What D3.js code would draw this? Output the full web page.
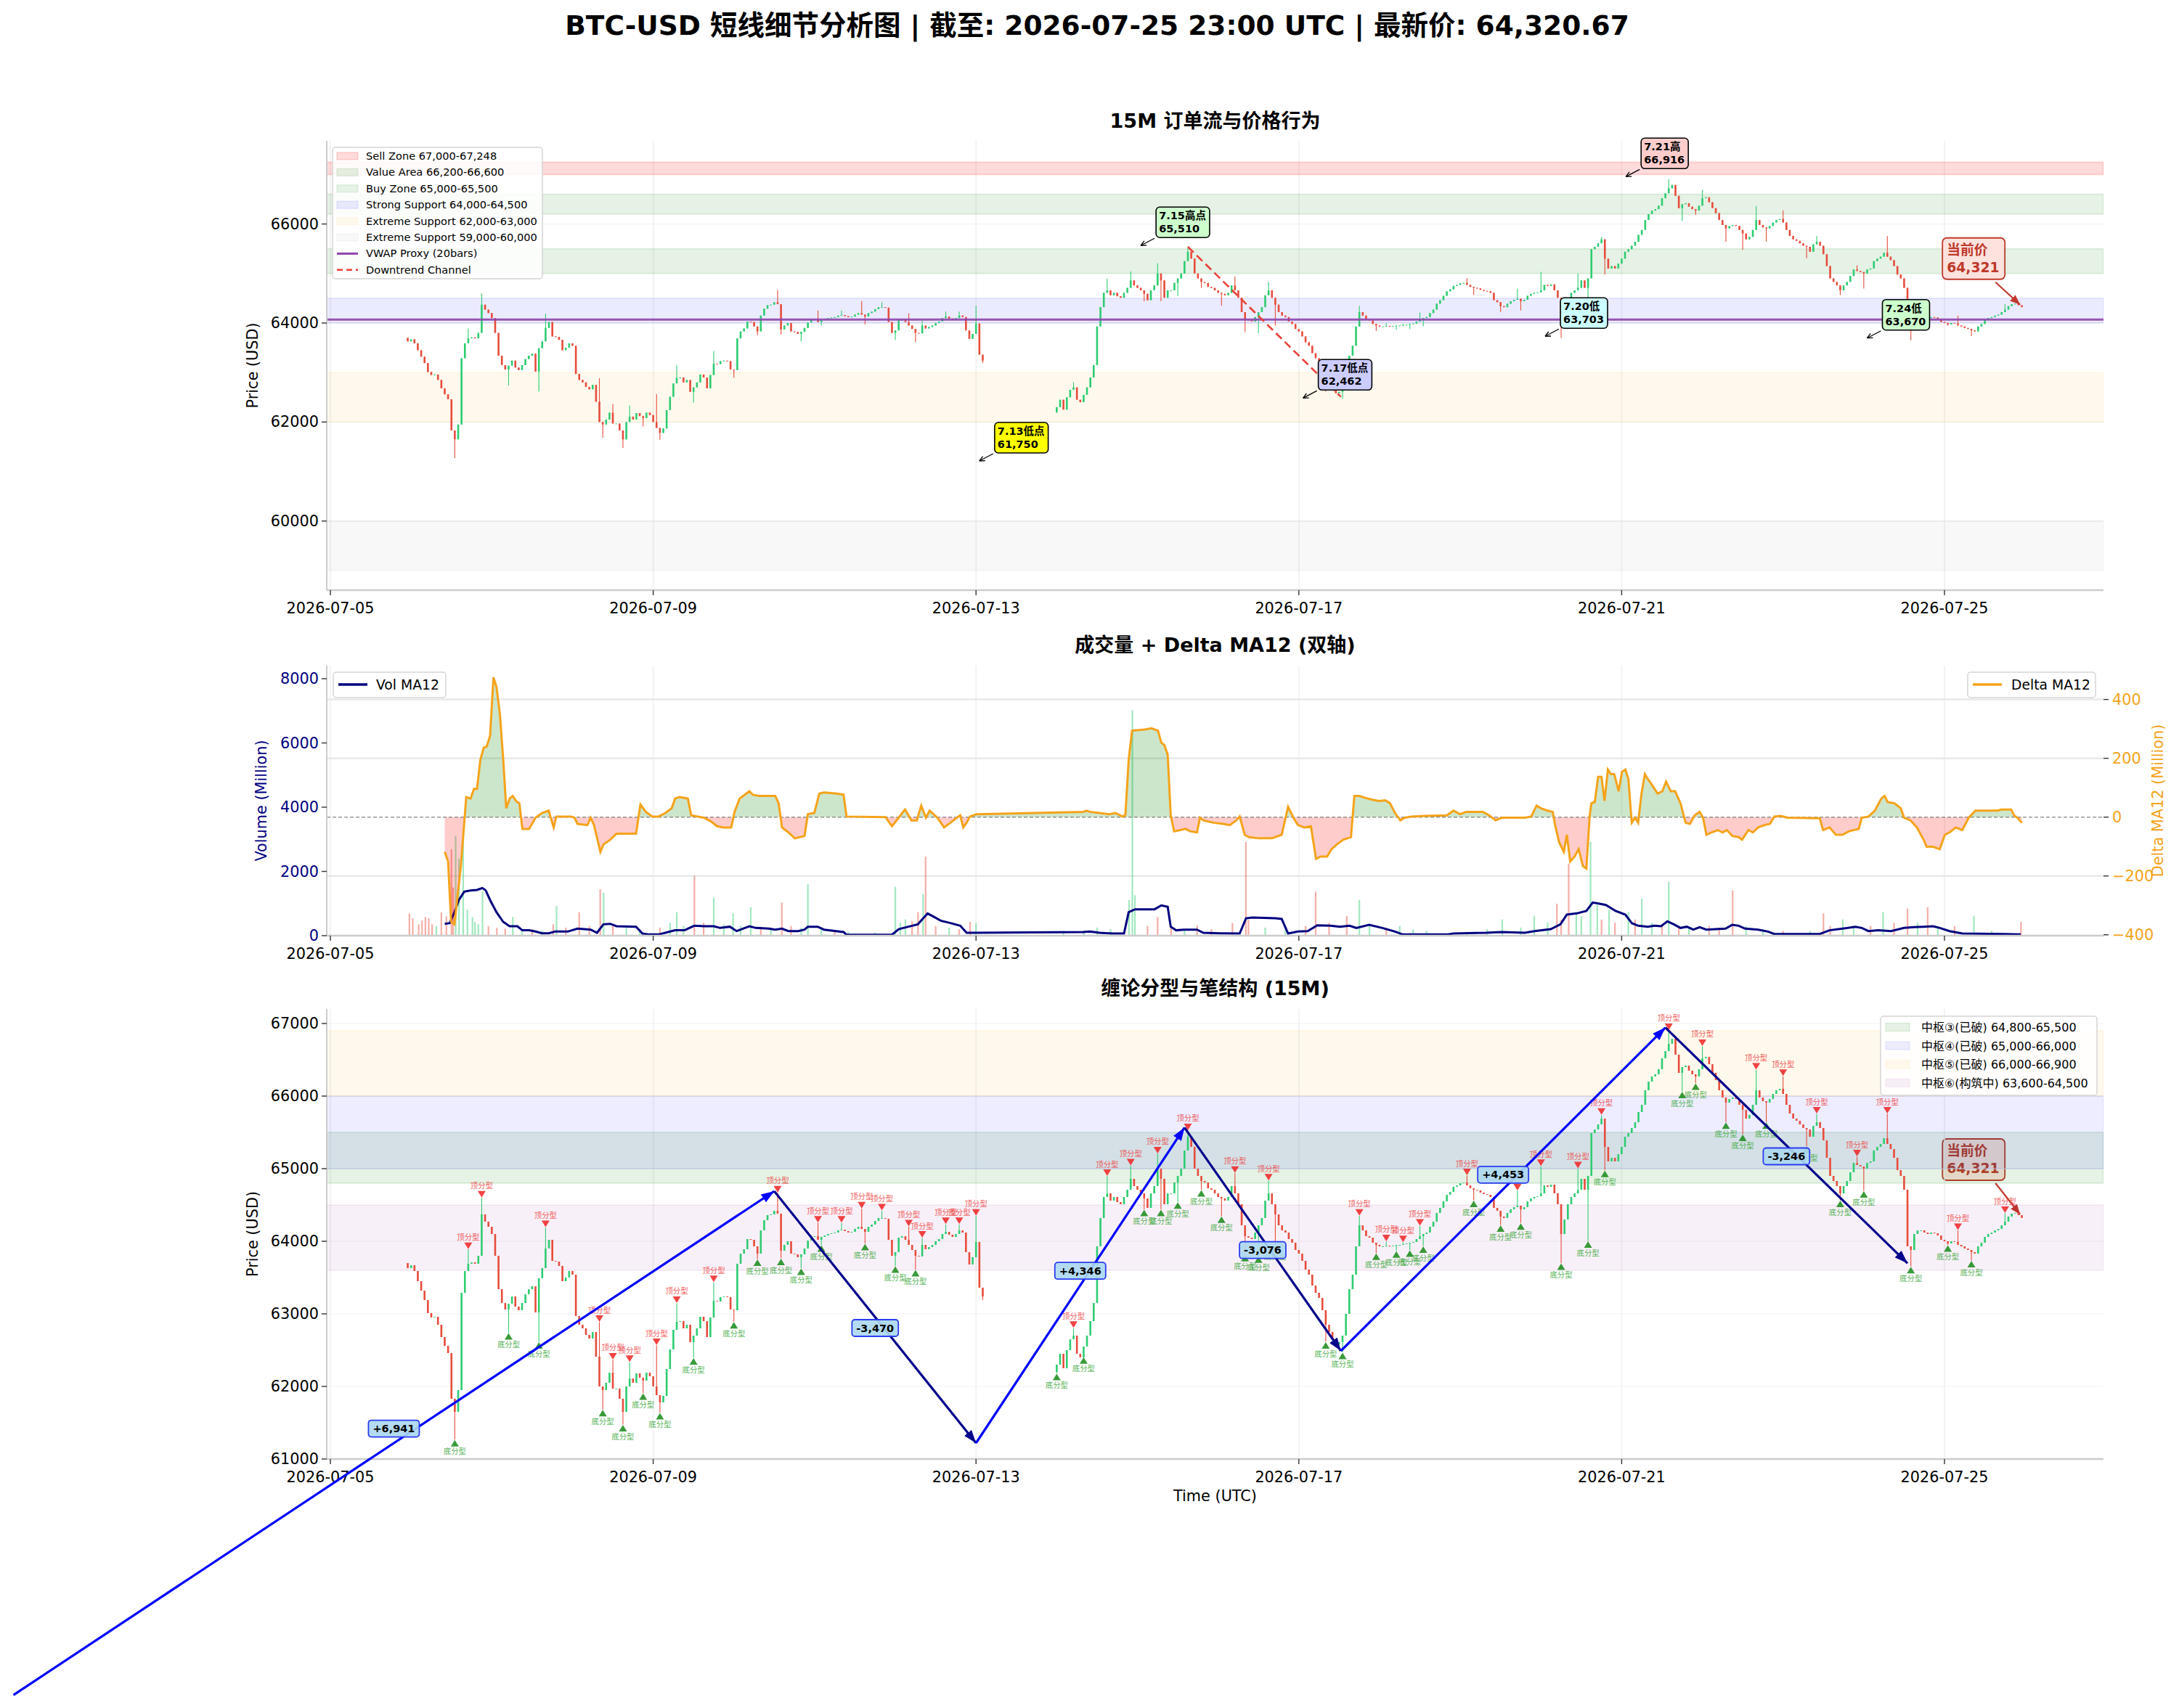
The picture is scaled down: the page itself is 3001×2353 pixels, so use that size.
<!DOCTYPE html>
<html><head><meta charset="utf-8">
<script src="https://cdn.jsdelivr.net/npm/d3@7/dist/d3.min.js"></script>
<style>html,body{margin:0;padding:0;background:#fff}svg{display:block}</style>
</head><body>
<svg id="chart" width="3001" height="2353" xmlns="http://www.w3.org/2000/svg"></svg>
<script>
// ================= DATA =================
const titleText = "BTC-USD 短线细节分析图 | 截至: 2026-07-25 23:00 UTC | 最新价: 64,320.67";
const panelTitles = ["15M 订单流与价格行为", "成交量 + Delta MA12 (双轴)", "缠论分型与笔结构 (15M)"];
const xTickLabels = ["2026-07-05","2026-07-09","2026-07-13","2026-07-17","2026-07-21","2026-07-25"];
const priceTicksTop = [60000,62000,64000,66000];
const volTicks = [0,2000,4000,6000,8000];
const deltaTicks = [-400,-200,0,200,400];
const priceTicksBottom = [61000,62000,63000,64000,65000,66000,67000];

// hourly candles (close prices), segment 1
const seg1Start = "07-05 23:00", seg1Open = 63700;
const seg1Closes = [
63630,63670,63590,63450,63320,63190,63010,62950,62960,62850,62680,62560,
62460,61830,61650,61950,63290,63590,63690,63710,63690,63800,64370,64270,
64200,64100,63800,63340,63150,63060,63140,63240,63100,63050,63150,63270,
63340,63380,63020,63490,63630,63900,64020,63730,63720,63660,63450,63500,
63590,63540,62970,62850,62800,62710,62660,62750,62410,62000,61950,62050,
62190,61970,61970,61830,61650,62000,62110,62050,62180,62120,62080,62190,
62140,62000,61880,61780,61870,62240,62510,62780,62890,62900,62800,62850,
62610,62700,62800,62960,62900,62680,62950,63180,63170,63230,63240,63230,
63060,63050,63690,63830,63890,64030,64020,63930,63830,64150,64290,64360,
64370,64420,64380,63870,63950,64000,63830,63820,63780,63820,63900,64010,
64070,64070,64020,64060,64080,64100,64110,64120,64150,64160,64140,64120,
64130,64170,64200,64170,64130,64200,64230,64280,64320,64320,64310,64020,
63800,63850,64050,64070,64020,63950,63880,63800,63790,63950,63890,63920,
63950,64000,64030,64100,64130,64090,64060,64100,64150,64120,63850,63680,
63780,63990,63360,63240];
// segment 2
const seg2Start = "07-14 00:00", seg2Open = 62200;
const seg2Closes = [
62300,62450,62250,62500,62650,62700,62450,62400,62550,62700,62900,63150,
63930,64320,64610,64660,64560,64610,64540,64510,64610,64710,64860,64760,
64710,64660,64590,64460,64660,64760,65000,64860,64510,64660,64660,64810,
64900,65000,65250,65440,65300,65000,64900,64830,64810,64730,64710,64660,
64610,64590,64560,64610,64760,64660,64510,64220,64070,64050,64030,64120,
64220,64320,64560,64660,64510,64370,64220,64150,64120,64030,63980,63880,
63830,63730,63610,63540,63390,63290,63220,63050,62850,62750,62660,62580,
62610,62700,63000,63340,63540,63930,64220,64150,64070,64050,63980,63950,
63930,63930,63940,63930,63940,63950,63950,63960,63970,63980,63990,64030,
64070,64100,64120,64200,64270,64390,64460,64550,64640,64680,64750,64770,
64800,64810,64770,64730,64710,64700,64670,64650,64640,64610,64460,64420,
64340,64320,64390,64440,64470,64490,64440,64470,64550,64590,64610,64620,
64660,64770,64750,64780,64660,64510,64100,64300,64510,64610,64660,64710,
64860,64710,64900,65490,65540,65610,65690,65300,65100,65150,65100,65200,
65300,65440,65490,65560,65640,65780,65880,66080,66200,66270,66300,66370,
66520,66620,66720,66790,66570,66320,66400,66420,66350,66300,66270,66370,
66520,66540,66440,66320,66220,66080,65980,65910,65960,65980,65960,65880,
65810,65690,65740,65880,66080,65980,65930,65910,65960,66030,66080,66100,
66030,65880,65760,65690,65660,65610,65560,65540,65440,65590,65640,65560,
65390,65150,64900,64830,64760,64660,64760,64830,64950,65080,65050,65030,
65000,65080,65100,65250,65300,65340,65420,65340,65270,65150,64980,64900,
64710,63930,63880,64100,64150,64150,64120,64100,64120,64110,64080,64020,
64000,63970,64000,63990,63950,63930,63900,63880,63850,63830,63930,63980,
64060,64100,64120,64150,64170,64220,64270,64340,64380,64390,64360,64321];
const extraLows = [["07-13 02:00",63190]];

// Chan fractals (time, extreme price)
const fractalTops = [
["07-06 17:00",63888],["07-06 21:00",64597],["07-07 16:00",64190],["07-08 08:00",62885],["07-08 12:00",62366],
["07-08 17:00",62333],["07-09 01:00",62565],["07-09 07:00",63146],["07-09 18:00",63432],["07-10 13:00",64667],
["07-11 01:00",64253],["07-11 08:00",64253],["07-11 14:00",64448],["07-11 20:00",64419],["07-12 04:00",64199],
["07-12 08:00",64045],["07-12 15:00",64232],["07-12 19:00",64232],["07-13 00:00",64348],["07-14 05:00",62802],
["07-14 15:00",64895],["07-14 22:00",65040],["07-15 06:00",65206],["07-15 15:00",65526],["07-16 05:00",64937],
["07-16 15:00",64833],["07-17 18:00",64348],["07-18 02:00",63996],["07-18 07:00",63983],["07-18 12:00",64211],
["07-19 02:00",64904],["07-19 17:00",64696],["07-20 00:00",65032],["07-20 11:00",64999],["07-20 18:00",65737],
["07-21 14:00",66906],["07-22 00:00",66686],["07-22 16:00",66359],["07-23 00:00",66272],["07-23 10:00",65754],
["07-23 22:00",65165],["07-24 07:00",65754],["07-25 04:00",64149],["07-25 18:00",64385]];
const fractalBottoms = [
["07-06 13:00",61268],["07-07 05:00",62740],["07-07 14:00",62615],["07-08 09:00",61682],["07-08 15:00",61475],
["07-08 21:00",61910],["07-09 02:00",61641],["07-09 12:00",62395],["07-10 00:00",62893],["07-10 07:00",63755],
["07-10 14:00",63764],["07-10 20:00",63631],["07-11 02:00",63950],["07-11 15:00",63971],["07-12 00:00",63660],
["07-12 06:00",63610],["07-14 00:00",62180],["07-14 08:00",62408],["07-15 02:00",64440],["07-15 07:00",64440],
["07-15 12:00",64543],["07-15 19:00",64709],["07-16 01:00",64348],["07-16 08:00",63817],["07-16 12:00",63797],
["07-16 17:00",63950],["07-17 08:00",62615],["07-17 13:00",62470],["07-17 23:00",63838],["07-18 05:00",63867],
["07-18 09:00",63880],["07-18 13:00",63934],["07-19 04:00",64564],["07-19 12:00",64224],["07-19 18:00",64253],
["07-20 06:00",63701],["07-20 14:00",64004],["07-20 19:00",64978],["07-21 18:00",66065],["07-21 22:00",66181],
["07-22 07:00",65642],["07-22 12:00",65476],["07-22 19:00",65642],["07-23 07:00",65310],["07-23 17:00",64564],
["07-24 00:00",64696],["07-24 14:00",63652],["07-25 01:00",63950],["07-25 08:00",63734]];

// zones (top panel)
const zoneLabels = ["Sell Zone 67,000-67,248","Value Area 66,200-66,600","Buy Zone 65,000-65,500","Strong Support 64,000-64,500","Extreme Support 62,000-63,000","Extreme Support 59,000-60,000"];
const zoneLo = [67000,66200,65000,64000,62000,59000];
const zoneHi = [67248,66600,65500,64500,63000,60000];
const vwapLabel = "VWAP Proxy (20bars)", vwapLevel = 64069;
const channelLabel = "Downtrend Channel";
const channelPts = [["07-15 15:00",65540],["07-17 12:30",62509]];
// key points (label, value text, time, price)
const keyPoints = [
["7.13低点","61,750","07-13 01:00",61214],["7.15高点","65,510","07-15 01:00",65565],
["7.17低点","62,462","07-17 01:15",62485],["7.20低","63,703","07-20 01:15",63732],
["7.21高","66,916","07-21 01:15",66957],["7.24低","63,670","07-24 01:00",63696]];
const currentPrice = ["当前价","64,321","07-25 22:30",64370];

// pivots (bottom panel)
const pivotLabels = ["中枢③(已破) 64,800-65,500","中枢④(已破) 65,000-66,000","中枢⑤(已破) 66,000-66,900","中枢⑥(构筑中) 63,600-64,500"];
const pivotLo = [64800,65000,66000,63600];
const pivotHi = [65500,66000,66900,64500];
// pen (笔) vertices
const penPoints = [["07-01 01:45",57749],["07-10 12:00",64690],["07-13 00:00",61220],["07-15 14:00",65566],["07-17 12:30",62490],["07-21 13:00",66943],["07-24 13:00",63697]];
const penLabels = ["+6,941","-3,470","+4,346","-3,076","+4,453","-3,246"];

// volume bars (time, volume M, direction)
const volBars = [
["07-05 23:30",693,"d"],["07-06 00:30",542,"d"],["07-06 02:15",354,"d"],["07-06 03:15",467,"d"],["07-06 04:15",580,"d"],["07-06 05:15",542,"d"],["07-06 06:15",354,"d"],["07-06 07:30",300,"u"],["07-06 09:00",731,"d"],["07-06 10:30",600,"d"],["07-06 12:00",2689,"d"],["07-06 12:30",1500,"d"],["07-06 13:15",3104,"u"],["07-06 14:15",2388,"u"],["07-06 15:30",3028,"u"],["07-06 16:45",806,"u"],["07-06 18:15",580,"u"],["07-06 19:00",420,"u"],["07-06 20:00",354,"u"],["07-06 21:15",1371,"u"],["07-06 23:00",300,"d"],["07-07 01:30",241,"d"],["07-07 04:00",220,"d"],["07-07 06:15",580,"u"],["07-07 09:00",180,"u"],["07-07 12:00",200,"d"],["07-07 15:00",160,"u"],["07-07 18:15",354,"d"],["07-07 19:15",919,"u"],["07-07 22:00",250,"d"],["07-08 02:00",731,"d"],["07-08 05:00",300,"d"],["07-08 08:15",1446,"d"],["07-08 09:15",1333,"u"],["07-08 12:00",300,"d"],["07-08 16:00",250,"u"],["07-08 20:00",200,"u"],["07-09 02:00",250,"d"],["07-09 05:00",400,"u"],["07-09 07:00",731,"u"],["07-09 09:00",300,"u"],["07-09 12:15",1861,"d"],["07-09 15:00",400,"d"],["07-09 18:00",1183,"u"],["07-09 21:00",350,"u"],["07-09 23:45",693,"u"],["07-10 02:00",300,"u"],["07-10 05:00",882,"u"],["07-10 08:00",280,"d"],["07-10 11:00",250,"u"],["07-10 14:15",1032,"d"],["07-10 17:00",300,"d"],["07-10 20:00",250,"u"],["07-10 22:00",1597,"u"],["07-11 02:00",200,"u"],["07-11 06:00",150,"d"],["07-11 10:00",120,"u"],["07-11 18:00",100,"u"],["07-12 00:00",1522,"u"],["07-12 01:30",400,"u"],["07-12 03:00",505,"u"],["07-12 05:00",450,"d"],["07-12 06:45",731,"d"],["07-12 08:15",1296,"u"],["07-12 09:00",2463,"d"],["07-12 12:00",300,"d"],["07-12 16:00",250,"u"],["07-12 19:00",200,"d"],["07-12 22:15",429,"d"],["07-13 00:00",392,"u"],["07-14 02:00",150,"u"],["07-14 08:00",150,"u"],["07-14 12:00",250,"u"],["07-14 16:00",200,"u"],["07-14 21:30",1108,"u"],["07-14 22:30",7021,"u"],["07-14 23:15",1258,"u"],["07-15 03:00",300,"d"],["07-15 06:00",580,"d"],["07-15 10:00",250,"d"],["07-15 14:00",200,"u"],["07-15 17:45",317,"d"],["07-15 22:00",200,"d"],["07-16 04:15",392,"d"],["07-16 08:15",2915,"d"],["07-16 09:00",500,"d"],["07-16 14:00",250,"u"],["07-16 20:00",200,"u"],["07-17 02:00",300,"d"],["07-17 05:00",1371,"d"],["07-17 09:00",400,"d"],["07-17 14:15",618,"d"],["07-17 18:00",1108,"u"],["07-17 21:00",300,"u"],["07-18 02:00",250,"d"],["07-18 06:00",300,"u"],["07-18 10:00",200,"u"],["07-18 14:00",150,"u"],["07-19 02:00",120,"u"],["07-19 08:00",200,"u"],["07-19 12:30",505,"u"],["07-19 18:00",250,"u"],["07-19 22:00",618,"u"],["07-20 02:00",400,"u"],["07-20 04:45",995,"d"],["07-20 06:00",500,"d"],["07-20 08:15",2237,"d"],["07-20 10:30",731,"u"],["07-20 12:00",600,"u"],["07-20 14:45",2915,"u"],["07-20 16:45",957,"u"],["07-20 18:00",500,"d"],["07-20 20:15",806,"u"],["07-20 22:00",400,"d"],["07-21 02:00",731,"u"],["07-21 04:00",500,"d"],["07-21 06:00",1145,"u"],["07-21 09:00",400,"u"],["07-21 12:00",300,"d"],["07-21 14:00",1673,"u"],["07-21 17:00",300,"d"],["07-21 20:00",250,"u"],["07-22 02:00",300,"d"],["07-22 05:00",250,"d"],["07-22 09:00",1409,"d"],["07-22 13:00",300,"u"],["07-22 18:00",200,"u"],["07-23 00:00",150,"d"],["07-23 08:00",150,"u"],["07-23 12:00",693,"d"],["07-23 14:00",300,"d"],["07-23 17:45",505,"u"],["07-23 21:00",300,"u"],["07-24 02:00",300,"d"],["07-24 05:45",731,"u"],["07-24 09:00",400,"d"],["07-24 13:00",844,"d"],["07-24 16:00",400,"u"],["07-24 19:00",882,"d"],["07-24 22:00",300,"u"],["07-25 03:00",300,"d"],["07-25 08:45",618,"u"],["07-25 14:00",150,"u"],["07-25 22:45",429,"d"]];

// MA series: [hours since 2026-07-05 00:00 UTC, value]
const volMA12 = [[34.0,369],[35.5,392],[36.9,731],[38.2,1108],[39.8,1371],[41.7,1409],[43.6,1424],[45.2,1484],[46.2,1409],[47.5,1108],[49.4,731],[51.4,429],[53.3,294],[55.6,294],[57.1,167],[59.1,167],[61.0,128],[62.9,75],[64.9,75],[66.8,128],[70.6,128],[73.5,218],[77.4,188],[79.3,90],[81.2,354],[83.2,369],[85.1,294],[90.9,279],[92.8,67],[94.7,37],[97.6,37],[99.6,90],[102.5,167],[105.3,167],[108.2,309],[111.1,294],[114.0,294],[115.9,241],[118.8,279],[120.8,143],[122.7,218],[124.6,294],[126.5,241],[130.4,218],[132.3,188],[134.3,218],[136.2,143],[139.1,143],[141.0,188],[142.0,279],[144.9,279],[146.8,188],[152.6,113],[153.5,30],[167.0,30],[169.0,203],[171.9,279],[174.7,354],[177.6,693],[179.6,580],[181.5,467],[184.4,392],[187.3,309],[189.2,90],[192.1,90],[223.9,113],[225.8,128],[228.7,90],[232.6,67],[236.0,67],[237.4,731],[239.3,821],[245.1,821],[247.1,942],[249.0,897],[249.9,279],[251.5,167],[253.8,188],[257.7,188],[259.6,90],[264.4,75],[270.4,67],[272.3,542],[274.2,565],[281.0,542],[282.9,520],[284.8,67],[287.7,128],[290.6,143],[293.5,324],[297.4,309],[300.2,279],[303.1,309],[305.1,241],[308.9,339],[312.8,241],[316.6,128],[318.9,37],[332.0,37],[334.0,67],[343.6,90],[348.4,113],[355.2,90],[358.1,143],[362.9,203],[365.8,354],[367.7,656],[370.6,693],[373.5,769],[375.4,1032],[377.4,995],[379.3,957],[382.2,769],[385.1,656],[387.0,392],[388.9,309],[391.8,279],[393.7,309],[395.7,294],[397.6,444],[399.5,354],[401.5,241],[403.4,279],[405.3,188],[407.2,264],[409.2,188],[412.0,203],[414.9,218],[416.9,339],[418.8,309],[420.7,218],[424.6,188],[427.5,128],[429.4,52],[442.9,52],[445.8,167],[449.7,218],[453.5,279],[455.4,241],[457.4,143],[460.3,167],[464.1,143],[468.0,241],[470.9,264],[473.8,279],[476.6,294],[478.6,241],[481.5,143],[485.3,67],[497.8,52],[502.7,37]];
const deltaMA12 = [[34.0,-118],[35.0,-150],[35.9,-356],[36.9,-364],[38.8,-167],[40.4,68],[41.7,63],[42.7,96],[43.6,96],[44.6,195],[45.6,236],[46.5,240],[47.5,277],[48.5,475],[49.4,442],[50.4,351],[51.4,195],[52.3,30],[53.3,63],[54.2,72],[55.2,55],[56.2,47],[57.1,-40],[59.1,-40],[61.0,-2],[62.9,14],[64.9,22],[66.4,-35],[67.2,2],[71.6,2],[72.6,-2],[73.5,-23],[76.4,-27],[77.4,-2],[78.4,-27],[80.3,-118],[81.2,-93],[83.2,-77],[85.1,-56],[90.9,-56],[92.2,43],[93.8,18],[95.7,2],[97.6,2],[99.6,14],[101.5,30],[102.5,63],[103.8,68],[106.3,63],[107.3,6],[109.2,2],[111.1,-2],[113.1,-14],[115.0,-31],[116.9,-35],[119.2,-35],[120.2,18],[121.7,63],[123.7,80],[124.6,88],[125.6,76],[127.5,72],[132.3,72],[133.3,47],[134.3,-35],[136.2,-52],[138.1,-72],[141.0,-64],[142.0,10],[143.9,14],[145.4,80],[146.8,84],[150.6,80],[152.6,76],[153.5,2],[165.1,0],[167.0,-31],[169.0,-2],[170.9,26],[172.8,-11],[174.4,-11],[175.7,39],[177.1,-2],[178.2,22],[180.5,-2],[182.5,-35],[184.4,-19],[186.3,-2],[187.3,6],[188.2,-35],[189.2,-19],[190.2,2],[192.1,10],[223.9,18],[224.9,22],[225.8,18],[228.7,14],[231.6,10],[233.5,14],[235.5,2],[236.4,6],[237.4,195],[238.4,294],[242.2,298],[244.2,302],[246.1,294],[247.1,253],[248.0,245],[249.0,212],[249.9,6],[250.9,-48],[252.8,-44],[254.2,-40],[255.7,-48],[257.7,-52],[258.6,-2],[259.6,-11],[262.6,-19],[265.5,-23],[267.5,-27],[269.4,-11],[270.4,2],[271.9,-60],[273.2,-68],[276.1,-72],[280.0,-72],[282.9,-60],[284.8,35],[286.4,-2],[287.7,-27],[289.6,-35],[291.6,-31],[293.1,-142],[294.5,-134],[296.4,-134],[297.7,-109],[299.3,-93],[301.2,-77],[303.5,-68],[304.5,72],[306.0,72],[307.9,65],[309.9,59],[311.8,55],[313.7,57],[315.1,47],[316.6,14],[318.2,-11],[319.5,-2],[321.4,2],[325.3,4],[332.0,6],[334.0,22],[335.9,10],[337.8,18],[342.7,18],[344.6,6],[346.5,-11],[348.4,-2],[355.2,-2],[357.1,2],[358.7,39],[360.0,30],[361.9,22],[363.5,18],[364.2,-27],[365.4,-85],[366.8,-118],[367.7,-60],[368.7,-151],[370.0,-134],[371.2,-109],[372.5,-167],[373.5,-175],[374.5,6],[375.0,47],[376.0,51],[377.0,137],[378.0,137],[378.9,55],[379.9,162],[380.8,146],[381.8,146],[383.1,88],[384.1,154],[385.1,162],[386.0,129],[387.0,-19],[388.0,-2],[388.9,-19],[389.9,80],[390.9,146],[391.8,129],[392.8,113],[394.7,80],[396.1,88],[397.2,121],[398.6,88],[399.9,88],[401.5,47],[403.0,-19],[404.3,-23],[405.7,6],[407.2,18],[408.2,-2],[409.2,-60],[410.7,-52],[412.6,-44],[414.0,-52],[415.3,-44],[416.9,-64],[418.8,-68],[419.8,-77],[421.7,-44],[423.0,-52],[424.6,-35],[426.5,-27],[428.1,-23],[429.4,2],[431.3,4],[433.3,-2],[442.9,-4],[443.9,-44],[445.8,-35],[447.7,-60],[449.7,-60],[451.6,-48],[454.5,-40],[455.4,-2],[457.4,2],[459.3,22],[461.2,63],[462.2,72],[463.1,51],[465.1,47],[467.0,30],[468.0,-2],[469.9,-11],[471.8,-35],[473.8,-77],[474.7,-101],[476.6,-101],[478.6,-109],[480.1,-60],[481.5,-52],[483.4,-35],[485.3,-44],[487.2,-2],[489.2,22],[495.9,22],[496.9,26],[499.8,26],[500.7,6],[501.7,-2],[503.0,-19]];

// ================= DRAWING =================
const FONT = "'DejaVu Sans','Noto Sans CJK SC','Noto Sans',sans-serif";
const UP = "#2ecc71", DN = "#e74c3c";
const T = s => new Date("2026-" + s.replace(" ", "T") + ":00Z");
const BASE = Date.UTC(2026, 6, 5);
const Hr = h => new Date(BASE + h * 3600000);

const svg = d3.select("#chart").style("font-family", FONT);
svg.append("rect").attr("width", 3001).attr("height", 2353).attr("fill", "#fff");
const L = 450, R = 2897;
const P1 = {top:194, bot:813}, P2 = {top:917, bot:1289}, P3 = {top:1390, bot:2010};
const x = d3.scaleUtc().domain([new Date(Date.UTC(2026,6,4,22,55)), new Date(Date.UTC(2026,6,26,23,17))]).range([L, R]);
const y1 = d3.scaleLinear().domain([58604, 67680]).range([P1.bot, P1.top]);
const y2v = d3.scaleLinear().domain([0, 8407]).range([P2.bot, P2.top]);
const y2d = d3.scaleLinear().domain([-403, 515]).range([P2.bot, P2.top]);
const y3 = d3.scaleLinear().domain([61000, 67200]).range([P3.bot, P3.top]);
const xTickDates = xTickLabels.map(s => new Date(s + "T00:00:00Z"));

const defs = svg.append("defs");
[P1, P2, P3].forEach((p, i) => defs.append("clipPath").attr("id", "clip" + (i + 1))
  .append("rect").attr("x", L).attr("y", p.top).attr("width", R - L).attr("height", p.bot - p.top));
function arrowMarker(id, color, len, wid) {
  defs.append("marker").attr("id", id).attr("markerUnits", "userSpaceOnUse")
    .attr("markerWidth", len).attr("markerHeight", wid).attr("refX", len).attr("refY", wid / 2)
    .attr("orient", "auto").append("path").attr("d", `M0,0 L${len},${wid/2} L0,${wid} Z`).attr("fill", color);
}
arrowMarker("arUp", "#0000ff", 18, 13);
arrowMarker("arDn", "#00008b", 18, 13);
arrowMarker("arRed", "#c0392b", 14, 11);

// candles
function buildCandles(startStr, open0, closes) {
  const t0 = T(startStr).getTime();
  return closes.map((c, i) => {
    const o = i ? closes[i - 1] : open0;
    return {t: new Date(t0 + i * 3600000), o, c, h: Math.max(o, c), l: Math.min(o, c)};
  });
}
const candles = buildCandles(seg1Start, seg1Open, seg1Closes).concat(buildCandles(seg2Start, seg2Open, seg2Closes));
const byTime = new Map(candles.map(d => [+d.t, d]));
fractalTops.forEach(([s, p]) => { const d = byTime.get(+T(s)); if (d) d.h = Math.max(d.h, p); });
fractalBottoms.forEach(([s, p]) => { const d = byTime.get(+T(s)); if (d) d.l = Math.min(d.l, p); });
extraLows.forEach(([s, p]) => { const d = byTime.get(+T(s)); if (d) d.l = Math.min(d.l, p); });

function drawCandles(g, y) {
  g.selectAll(null).data(candles).join("line")
    .attr("x1", d => x(d.t)).attr("x2", d => x(d.t))
    .attr("y1", d => y(d.h)).attr("y2", d => y(d.l))
    .attr("stroke", d => d.c >= d.o ? UP : DN).attr("stroke-width", 1.1);
  g.selectAll(null).data(candles).join("rect")
    .attr("x", d => x(d.t) - 1.3).attr("width", 2.6)
    .attr("y", d => y(Math.max(d.o, d.c)))
    .attr("height", d => Math.max(1, Math.abs(y(d.o) - y(d.c))))
    .attr("fill", d => d.c >= d.o ? UP : DN);
}

function grid(p, yScale, yt, col, w) {
  const g = svg.append("g");
  xTickDates.forEach(d => g.append("line").attr("x1", x(d)).attr("x2", x(d)).attr("y1", p.top).attr("y2", p.bot)
    .attr("stroke", "#efefef").attr("stroke-width", 1.5));
  yt.forEach(v => g.append("line").attr("x1", L).attr("x2", R).attr("y1", yScale(v)).attr("y2", yScale(v))
    .attr("stroke", col).attr("stroke-width", w));
}
function spines(p) {
  svg.append("line").attr("x1", L).attr("x2", L).attr("y1", p.top).attr("y2", p.bot).attr("stroke", "#cccccc").attr("stroke-width", 2);
  svg.append("line").attr("x1", L).attr("x2", R).attr("y1", p.bot).attr("y2", p.bot).attr("stroke", "#cccccc").attr("stroke-width", 2.5);
}
function xAxis(p) {
  xTickDates.forEach((d, i) => {
    svg.append("line").attr("x1", x(d)).attr("x2", x(d)).attr("y1", p.bot).attr("y2", p.bot + 7).attr("stroke", "#333").attr("stroke-width", 1.4);
    svg.append("text").attr("x", x(d)).attr("y", p.bot + 32).attr("text-anchor", "middle")
      .attr("font-size", 20.8).attr("fill", "#000").text(xTickLabels[i]);
  });
}
function yAxis(yScale, ticks, side, color, fmt) {
  ticks.forEach(v => {
    const yy = yScale(v);
    if (side === "left") {
      svg.append("line").attr("x1", L - 7).attr("x2", L).attr("y1", yy).attr("y2", yy).attr("stroke", "#333").attr("stroke-width", 1.4);
      svg.append("text").attr("x", L - 11).attr("y", yy + 7).attr("text-anchor", "end").attr("font-size", 20.8).attr("fill", color).text(fmt(v));
    } else {
      svg.append("line").attr("x1", R).attr("x2", R + 7).attr("y1", yy).attr("y2", yy).attr("stroke", "#333").attr("stroke-width", 1.4);
      svg.append("text").attr("x", R + 12).attr("y", yy + 7).attr("text-anchor", "start").attr("font-size", 20.8).attr("fill", color).text(fmt(v));
    }
  });
}
function yLabel(xp, p, text, color, rot) {
  const cy = (p.top + p.bot) / 2;
  svg.append("text").attr("transform", `translate(${xp},${cy}) rotate(${rot})`).attr("text-anchor", "middle")
    .attr("dominant-baseline", "central").attr("font-size", 20.8).attr("fill", color).text(text);
}
const fmtMinus = v => (v < 0 ? "\u2212" + Math.abs(v) : String(v));

// ---- titles
svg.append("text").attr("x", 1511).attr("y", 48).attr("text-anchor", "middle").attr("font-size", 37.5)
  .attr("font-weight", "bold").text(titleText);
[176, 898, 1371].forEach((yy, i) => svg.append("text").attr("x", (L + R) / 2).attr("y", yy).attr("text-anchor", "middle")
  .attr("font-size", 27).attr("font-weight", "bold").text(panelTitles[i]));

// ================= PANEL 1 =================
const zoneFill = ["rgba(255,0,0,0.14)","rgba(0,128,0,0.10)","rgba(0,128,0,0.10)","rgba(0,0,255,0.08)","rgba(255,165,0,0.07)","rgba(128,128,128,0.06)"];
grid(P1, y1, priceTicksTop, "#f2f2f2", 1.2);
const g1 = svg.append("g").attr("clip-path", "url(#clip1)");
zoneLo.forEach((lo, i) => g1.append("rect").attr("x", L).attr("width", R - L)
  .attr("y", y1(zoneHi[i])).attr("height", y1(lo) - y1(zoneHi[i]))
  .attr("fill", zoneFill[i]).attr("stroke", zoneFill[i]).attr("stroke-width", 2));
drawCandles(g1, y1);
g1.append("line").attr("x1", L).attr("x2", R).attr("y1", y1(vwapLevel)).attr("y2", y1(vwapLevel))
  .attr("stroke", "#8e44ad").attr("stroke-width", 3).attr("opacity", 0.9);
g1.append("line").attr("x1", x(T(channelPts[0][0]))).attr("y1", y1(channelPts[0][1]))
  .attr("x2", x(T(channelPts[1][0]))).attr("y2", y1(channelPts[1][1]))
  .attr("stroke", "#e8413a").attr("stroke-width", 2.6).attr("stroke-dasharray", "11,6");
spines(P1); xAxis(P1);
yAxis(y1, priceTicksTop, "left", "#000", v => String(v));
yLabel(348, P1, "Price (USD)", "#000", -90);

function openArrow(g, x1, y1_, x2, y2, color, w) {
  g.append("line").attr("x1", x1).attr("y1", y1_).attr("x2", x2).attr("y2", y2).attr("stroke", color).attr("stroke-width", w);
  const a = Math.atan2(y2 - y1_, x2 - x1), hl = 8;
  [0.45, -0.45].forEach(da => g.append("line").attr("x1", x2).attr("y1", y2)
    .attr("x2", x2 - hl * Math.cos(a + da)).attr("y2", y2 - hl * Math.sin(a + da)).attr("stroke", color).attr("stroke-width", w));
}
const kpFill = ["#ffff00","#ccffcc","#ccccff","#ccffff","#ffcccc","#ccffcc"];
const ga = svg.append("g");
keyPoints.forEach((k, i) => {
  const tx = x(T(k[2])), ty = y1(k[3]);
  const bx = tx + 21, bb = ty - 11, bh = 42;
  const rect = ga.append("rect");
  const t1 = ga.append("text").attr("x", bx + 4).attr("y", bb - bh + 17).attr("font-size", 14.5).attr("font-weight", "bold").text(k[0]);
  const t2 = ga.append("text").attr("x", bx + 4).attr("y", bb - bh + 35).attr("font-size", 14.5).attr("font-weight", "bold").text(k[1]);
  const w = Math.max(t1.node().getComputedTextLength(), t2.node().getComputedTextLength()) + 9;
  rect.attr("x", bx).attr("y", bb - bh).attr("width", w).attr("height", bh).attr("rx", 5)
    .attr("fill", kpFill[i]).attr("stroke", "#000").attr("stroke-width", 1.6);
  openArrow(ga, tx + 19, ty - 10, tx, ty, "#000", 1.3);
});
function currentBox(y, dyTop) {
  const tx = x(T(currentPrice[2])), ty = y(currentPrice[3]);
  const bx = tx - 107, by = ty - dyTop;
  ga.append("rect").attr("x", bx).attr("y", by).attr("width", 86).attr("height", 57).attr("rx", 6)
    .attr("fill", "#fde2de").attr("stroke", "#c0392b").attr("stroke-width", 1.8);
  ga.append("text").attr("x", bx + 6).attr("y", by + 23).attr("font-size", 18.75).attr("font-weight", "bold").attr("fill", "#c0392b").text(currentPrice[0]);
  ga.append("text").attr("x", bx + 6).attr("y", by + 47).attr("font-size", 18.75).attr("font-weight", "bold").attr("fill", "#c0392b").text(currentPrice[1]);
  ga.append("line").attr("x1", bx + 73).attr("y1", by + 61).attr("x2", tx).attr("y2", ty)
    .attr("stroke", "#c0392b").attr("stroke-width", 2.2).attr("marker-end", "url(#arRed)");
}
currentBox(y1, 92);

// legend panel 1
const lg = svg.append("g");
lg.append("rect").attr("x", 458).attr("y", 203).attr("width", 289).attr("height", 181).attr("rx", 4)
  .attr("fill", "rgba(255,255,255,0.85)").attr("stroke", "#d5d5d5").attr("stroke-width", 1.5);
const legendTop = zoneLabels.concat([vwapLabel, channelLabel]);
legendTop.forEach((lab, i) => {
  const cy = 215 + i * 22.4;
  if (i < 6) lg.append("rect").attr("x", 464).attr("y", cy - 5).attr("width", 29).attr("height", 10)
    .attr("fill", zoneFill[i]).attr("stroke", zoneFill[i]).attr("stroke-width", 1.5);
  else if (i === 6) lg.append("line").attr("x1", 464).attr("x2", 493).attr("y1", cy).attr("y2", cy).attr("stroke", "#8e44ad").attr("stroke-width", 3);
  else lg.append("line").attr("x1", 464).attr("x2", 493).attr("y1", cy).attr("y2", cy).attr("stroke", "#e8413a").attr("stroke-width", 2.6).attr("stroke-dasharray", "8,5");
  lg.append("text").attr("x", 504).attr("y", cy + 5).attr("font-size", 14.6).text(lab);
});

// ================= PANEL 2 =================
grid(P2, y2d, [400, 200, -200], "#e8e8e8", 2.5);
const g2 = svg.append("g").attr("clip-path", "url(#clip2)");
g2.selectAll(null).data(volBars).join("rect")
  .attr("x", d => x(T(d[0])) - 1.1).attr("width", 2.2)
  .attr("y", d => y2v(d[1])).attr("height", d => y2v(0) - y2v(d[1]))
  .attr("fill", d => d[2] === "u" ? "rgba(46,204,113,0.45)" : "rgba(231,76,60,0.45)");
g2.append("path").datum(volMA12).attr("fill", "none").attr("stroke", "#000080").attr("stroke-width", 3)
  .attr("d", d3.line().x(d => x(Hr(d[0]))).y(d => y2v(d[1])));
g2.append("line").attr("x1", L).attr("x2", R).attr("y1", y2d(0)).attr("y2", y2d(0))
  .attr("stroke", "#999").attr("stroke-width", 1.6).attr("stroke-dasharray", "5,3");
const y0 = y2d(0);
defs.append("clipPath").attr("id", "posClip").append("rect").attr("x", L).attr("y", P2.top).attr("width", R - L).attr("height", y0 - P2.top);
defs.append("clipPath").attr("id", "negClip").append("rect").attr("x", L).attr("y", y0).attr("width", R - L).attr("height", P2.bot - y0);
const dArea = d3.area().x(d => x(Hr(d[0]))).y0(y0).y1(d => y2d(d[1]));
g2.append("g").attr("clip-path", "url(#posClip)").append("path").datum(deltaMA12).attr("d", dArea).attr("fill", "rgba(0,128,0,0.2)");
g2.append("g").attr("clip-path", "url(#negClip)").append("path").datum(deltaMA12).attr("d", dArea).attr("fill", "rgba(255,0,0,0.2)");
g2.append("path").datum(deltaMA12).attr("fill", "none").attr("stroke", "#f5a31a").attr("stroke-width", 3)
  .attr("d", d3.line().x(d => x(Hr(d[0]))).y(d => y2d(d[1])));
spines(P2); xAxis(P2);
yAxis(y2v, volTicks, "left", "#000080", v => String(v));
yAxis(y2d, deltaTicks, "right", "#f5a31a", fmtMinus);
yLabel(360, P2, "Volume (Million)", "#000080", -90);
yLabel(2972, P2, "Delta MA12 (Million)", "#f5a31a", -90);
// legends panel 2
const lg2 = svg.append("g");
lg2.append("rect").attr("x", 459).attr("y", 926).attr("width", 155).attr("height", 35).attr("rx", 4).attr("fill", "rgba(255,255,255,0.85)").attr("stroke", "#d5d5d5").attr("stroke-width", 1.5);
lg2.append("line").attr("x1", 466).attr("x2", 506).attr("y1", 943).attr("y2", 943).attr("stroke", "#000080").attr("stroke-width", 3.5);
lg2.append("text").attr("x", 518).attr("y", 950).attr("font-size", 18.75).text("Vol MA12");
lg2.append("rect").attr("x", 2710).attr("y", 926).attr("width", 176).attr("height", 35).attr("rx", 4).attr("fill", "rgba(255,255,255,0.85)").attr("stroke", "#d5d5d5").attr("stroke-width", 1.5);
lg2.append("line").attr("x1", 2717).attr("x2", 2757).attr("y1", 943).attr("y2", 943).attr("stroke", "#f5a31a").attr("stroke-width", 3.5);
lg2.append("text").attr("x", 2770).attr("y", 950).attr("font-size", 18.75).text("Delta MA12");

// ================= PANEL 3 =================
const pivotFill = ["rgba(0,128,0,0.10)","rgba(0,0,255,0.07)","rgba(255,165,0,0.07)","rgba(128,0,128,0.06)"];
grid(P3, y3, priceTicksBottom, "#f2f2f2", 1.2);
const g3 = svg.append("g").attr("clip-path", "url(#clip3)");
pivotLo.forEach((lo, i) => g3.append("rect").attr("x", L).attr("width", R - L)
  .attr("y", y3(pivotHi[i])).attr("height", y3(lo) - y3(pivotHi[i]))
  .attr("fill", pivotFill[i]).attr("stroke", pivotFill[i]).attr("stroke-width", 2));
drawCandles(g3, y3);
fractalTops.forEach(([s, p]) => {
  const cx = x(T(s)), cy = y3(p) - 5;
  g3.append("path").attr("d", `M${cx-5.5},${cy-4.5} L${cx+5.5},${cy-4.5} L${cx},${cy+4.5} Z`).attr("fill", "#ee2222").attr("opacity", 0.85);
  g3.append("text").attr("x", cx).attr("y", cy - 8).attr("text-anchor", "middle").attr("font-size", 10.4).attr("fill", "#f04040").attr("opacity", 0.85).text("顶分型");
});
fractalBottoms.forEach(([s, p]) => {
  const cx = x(T(s)), cy = y3(p) + 5;
  g3.append("path").attr("d", `M${cx-5.5},${cy+4.5} L${cx+5.5},${cy+4.5} L${cx},${cy-4.5} Z`).attr("fill", "#168a16").attr("opacity", 0.85);
  g3.append("text").attr("x", cx).attr("y", cy + 15).attr("text-anchor", "middle").attr("font-size", 10.4).attr("fill", "#3aa83a").attr("opacity", 0.85).text("底分型");
});
spines(P3); xAxis(P3);
yAxis(y3, priceTicksBottom, "left", "#000", v => String(v));
yLabel(348, P3, "Price (USD)", "#000", -90);
svg.append("text").attr("x", (L + R) / 2).attr("y", 2068).attr("text-anchor", "middle").attr("font-size", 20.8).text("Time (UTC)");

// pens (not clipped)
const gp = svg.append("g");
for (let i = 0; i < penPoints.length - 1; i++) {
  const a = penPoints[i], b = penPoints[i + 1];
  const ax = x(T(a[0])), ay = y3(a[1]), bx = x(T(b[0])), by = y3(b[1]);
  const rising = b[1] > a[1];
  gp.append("line").attr("x1", ax).attr("y1", ay).attr("x2", bx).attr("y2", by)
    .attr("stroke", rising ? "#0000ff" : "#00008b").attr("stroke-width", 3.2)
    .attr("marker-end", rising ? "url(#arUp)" : "url(#arDn)");
}
for (let i = 0; i < penPoints.length - 1; i++) {
  const a = penPoints[i], b = penPoints[i + 1];
  const rising = b[1] > a[1];
  const mx = (x(T(a[0])) + x(T(b[0]))) / 2, my = (y3(a[1]) + y3(b[1])) / 2 + (rising ? -20 : 15);
  const r = gp.append("rect");
  const t = gp.append("text").attr("x", mx).attr("y", my + 5).attr("text-anchor", "middle").attr("font-size", 14.5).attr("font-weight", "bold").text(penLabels[i]);
  const w = t.node().getComputedTextLength() + 12;
  r.attr("x", mx - w / 2).attr("y", my - 11.5).attr("width", w).attr("height", 23).attr("rx", 4)
    .attr("fill", "rgba(173,216,240,0.92)").attr("stroke", "#2a3cf0").attr("stroke-width", 1.8);
}
currentBox(y3, 104);
// legend panel 3
const lg3 = svg.append("g");
lg3.append("rect").attr("x", 2590).attr("y", 1400).attr("width", 298).attr("height", 109).attr("rx", 4)
  .attr("fill", "rgba(255,255,255,0.85)").attr("stroke", "#d5d5d5").attr("stroke-width", 1.5);
pivotLabels.forEach((lab, i) => {
  const cy = 1415 + i * 25.6;
  lg3.append("rect").attr("x", 2597).attr("y", cy - 5.5).attr("width", 33).attr("height", 11).attr("fill", pivotFill[i]).attr("stroke", pivotFill[i]).attr("stroke-width", 1.5);
  lg3.append("text").attr("x", 2646).attr("y", cy + 6).attr("font-size", 16).text(lab);
});
</script>
</body></html>
